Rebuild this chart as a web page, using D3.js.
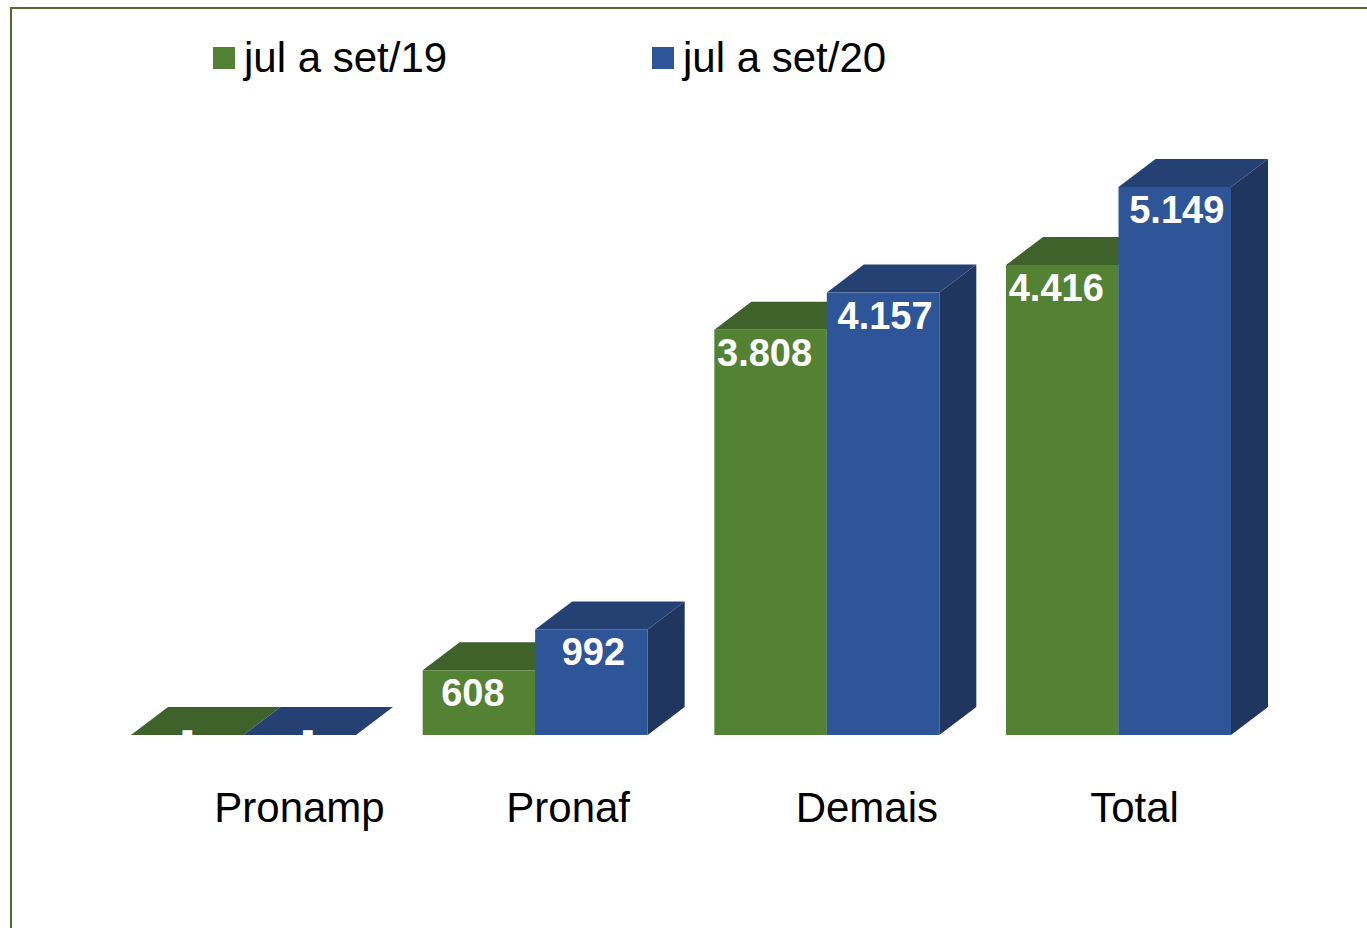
<!DOCTYPE html>
<html>
<head>
<meta charset="utf-8">
<script src="https://cdn.jsdelivr.net/npm/d3@7"></script>
<style>
  body { margin: 0; background: #fff; }
  text { font-family: "Liberation Sans", Arial, sans-serif; }
</style>
</head>
<body>
<div id="chart"></div>
<script>
// categories and the two periods
const categories = ["Pronamp", "Pronaf", "Demais", "Total"];
const seriesNames = ["jul a set/19", "jul a set/20"];
const values19 = [0, 608, 3808, 4416];
const values20 = [0, 992, 4157, 5149];
const valueLabels19 = ["-", "608", "3.808", "4.416"];
const valueLabels20 = ["-", "992", "4.157", "5.149"];

const width = 1367, height = 928;
const depthX = 37, depthY = 28;   // fake 3d offset
const catLabelShift = [56, 33, 40, 16];  // excel places these a bit unevenly
const colors = [
  { front: "#548235", top: "#3f612a", side: "#36521f" },
  { front: "#2e5597", top: "#254174", side: "#20365f" }
];

const svg = d3.select("#chart").append("svg")
  .attr("width", width)
  .attr("height", height);

// frame (only top and left edges fall inside the picture)
svg.append("rect")
  .attr("x", 11).attr("y", 8)
  .attr("width", width + 20).attr("height", height + 20)
  .attr("fill", "none")
  .attr("stroke", "#4e6b2e")
  .attr("stroke-width", 2);

const x = d3.scaleBand()
  .domain(categories)
  .range([131, 1231])
  .paddingInner(0.2286)
  .paddingOuter(0);

const xs = d3.scaleBand()
  .domain(d3.range(seriesNames.length))
  .range([0, x.bandwidth()]);

const y = d3.scaleLinear()
  .domain([0, 6000])
  .range([735, 96.4]);

const series = [values19, values20];
const labels = [valueLabels19, valueLabels20];
const labelShift = [-6, 2];

const bars = [];
categories.forEach((c, i) => {
  series.forEach((vals, s) => {
    bars.push({ cat: c, s: s, v: vals[i], label: labels[s][i] });
  });
});

const g = svg.append("g").attr("id", "bars");
const bw = xs.bandwidth();
const y0 = y(0);

bars.forEach(d => {
  const bx = x(d.cat) + xs(d.s);
  const yt = y(d.v);
  const col = colors[d.s];
  const bar = g.append("g").attr("class", "bar");
  // side face
  bar.append("polygon")
    .attr("points", [[bx + bw, yt], [bx + bw + depthX, yt - depthY],
      [bx + bw + depthX, y0 - depthY], [bx + bw, y0]].join(" "))
    .attr("fill", col.side);
  // top face
  bar.append("polygon")
    .attr("points", [[bx, yt], [bx + depthX, yt - depthY],
      [bx + bw + depthX, yt - depthY], [bx + bw, yt]].join(" "))
    .attr("fill", col.top);
  // front face
  bar.append("rect")
    .attr("x", bx).attr("y", yt)
    .attr("width", bw).attr("height", y0 - yt)
    .attr("fill", col.front);
  // value label
  const lx = bx + bw / 2 + labelShift[d.s] + (d.v === 0 ? 6 : 0);
  const ly = d.v === 0 ? y0 + 8 : yt + 36;
  bar.append("text")
    .attr("x", lx).attr("y", ly)
    .attr("text-anchor", "middle")
    .attr("font-size", 38)
    .attr("font-weight", "bold")
    .attr("fill", "#fff")
    .text(d.label);
});

// category labels
svg.append("g").selectAll("text")
  .data(categories)
  .join("text")
  .attr("x", (d, i) => x(d) + x.bandwidth() / 2 + catLabelShift[i])
  .attr("y", 822)
  .attr("text-anchor", "middle")
  .attr("font-size", 42)
  .attr("fill", "#000")
  .text(d => d);

// legend
const legendX = [213, 652];
const legend = svg.append("g").selectAll("g")
  .data(seriesNames)
  .join("g")
  .attr("transform", (d, i) => `translate(${legendX[i]},47)`);
legend.append("rect")
  .attr("width", 22).attr("height", 22)
  .attr("fill", (d, i) => colors[i].front);
legend.append("text")
  .attr("x", 31).attr("y", 25)
  .attr("font-size", 42)
  .attr("fill", "#000")
  .text(d => d);
</script>
</body>
</html>
